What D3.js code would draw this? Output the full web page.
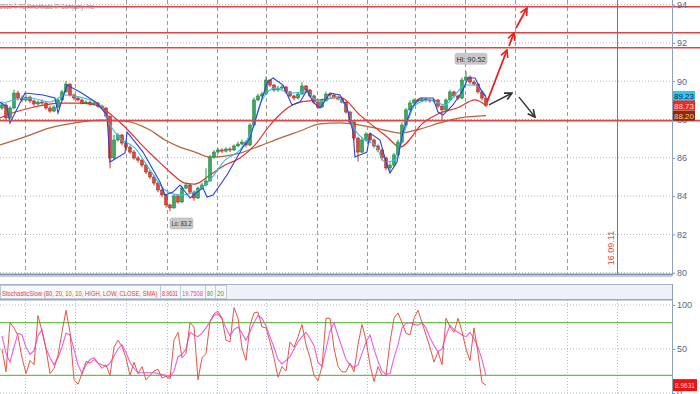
<!DOCTYPE html>
<html><head><meta charset="utf-8">
<script src="https://cdn.jsdelivr.net/npm/d3@7"></script>
<style>body{margin:0;background:#fff}svg{display:block}text{font-family:"Liberation Sans",Arial,sans-serif}</style>
</head><body><svg id="c" width="700" height="394"></svg>
<script>
// ---------- DATA ----------
const opens = [88.60,88.76,88.08,88.60,89.38,89.12,89.02,89.17,88.97,88.81,
88.91,88.86,88.60,88.44,88.65,89.02,89.44,89.85,89.28,89.12,
89.02,88.86,88.91,88.81,88.86,88.70,88.60,88.18,85.99,86.93,
87.19,86.77,86.56,86.30,85.99,85.88,85.62,85.26,85.00,84.68,
84.32,84.06,83.54,83.38,84.01,83.69,84.42,84.58,84.21,83.90,
84.42,84.58,84.79,86.04,86.30,86.41,86.35,86.46,86.41,86.62,
86.72,86.82,86.67,87.71,89.02,89.23,89.33,90.06,89.80,89.54,
89.64,89.70,89.44,89.23,89.12,89.33,89.75,89.54,89.23,88.91,
88.65,88.97,89.33,89.28,89.17,89.07,88.91,88.39,87.87,87.03,
86.30,86.93,87.24,86.93,86.62,86.41,85.99,85.47,85.62,86.15,
86.82,87.71,88.50,88.86,89.02,88.97,89.07,89.02,88.97,89.02,
88.70,88.50,89.02,89.44,89.23,89.12,90.06,90.22,89.96,89.85,
89.44,89.12];
const highs = [88.95,88.85,88.70,89.55,89.50,89.25,89.30,89.25,89.05,89.00,
89.05,88.95,88.70,88.75,89.10,89.55,90.00,89.90,89.35,89.20,
89.10,89.00,88.98,88.95,88.92,88.78,88.65,88.20,87.20,87.30,
87.25,86.85,86.65,86.40,86.10,85.95,85.70,85.35,85.10,84.75,
84.40,84.10,83.60,84.10,84.10,84.55,84.70,84.65,84.30,84.50,
84.70,85.45,86.15,86.40,86.50,86.50,86.55,86.55,86.70,86.85,
86.95,86.90,87.80,89.15,89.35,89.45,90.25,90.10,89.85,89.75,
89.80,89.75,89.50,89.30,89.40,89.95,89.80,89.60,89.30,88.95,
89.05,89.45,89.40,89.35,89.25,89.12,88.95,88.45,87.95,87.10,
87.05,87.35,87.30,87.00,86.70,86.45,86.05,85.75,86.25,86.95,
87.85,88.60,89.00,89.10,89.10,89.15,89.12,89.10,89.10,89.08,
88.75,89.10,89.55,89.50,89.30,90.20,90.52,90.30,90.05,89.90,
89.50,89.15];
const lows = [88.50,87.95,88.00,88.55,89.00,88.90,88.95,88.85,88.70,88.75,
88.78,88.50,88.35,88.38,88.60,88.98,89.40,89.20,89.00,88.95,
88.80,88.80,88.72,88.75,88.62,88.52,88.10,85.45,85.90,86.85,
86.65,86.45,86.20,85.90,85.75,85.50,85.15,84.90,84.55,84.20,
83.95,83.40,83.20,83.35,83.60,83.65,84.35,84.10,83.75,83.85,
84.35,84.50,84.75,85.95,86.20,86.25,86.28,86.30,86.35,86.55,
86.65,86.55,86.60,87.65,88.95,89.15,89.30,89.70,89.45,89.45,
89.55,89.35,89.15,89.00,89.05,89.30,89.45,89.15,88.80,88.55,
88.60,88.95,89.18,89.10,89.00,88.85,88.30,87.75,86.90,85.80,
86.25,86.85,86.80,86.50,86.30,85.85,85.35,85.25,85.55,86.10,
86.75,87.65,88.45,88.80,88.90,88.90,88.92,88.88,88.90,88.60,
87.97,88.45,88.98,89.15,89.00,89.05,90.00,89.85,89.75,89.35,
89.00,88.65];
const closes = [88.76,88.08,88.60,89.38,89.12,89.02,89.17,88.97,88.81,88.91,
88.86,88.60,88.44,88.65,89.02,89.44,89.85,89.28,89.12,89.02,
88.86,88.91,88.81,88.86,88.70,88.60,88.18,85.99,86.93,87.19,
86.77,86.56,86.30,85.99,85.88,85.62,85.26,85.00,84.68,84.32,
84.06,83.54,83.38,84.01,83.69,84.42,84.58,84.21,83.90,84.42,
84.58,84.79,86.04,86.30,86.41,86.35,86.46,86.41,86.62,86.72,
86.82,86.67,87.71,89.02,89.23,89.33,90.06,89.80,89.54,89.64,
89.70,89.44,89.23,89.12,89.33,89.75,89.54,89.23,88.91,88.65,
88.97,89.33,89.28,89.17,89.07,88.91,88.39,87.87,87.03,86.30,
86.93,87.24,86.93,86.62,86.41,85.99,85.47,85.62,86.15,86.82,
87.71,88.50,88.86,89.02,88.97,89.07,89.02,88.97,89.02,88.70,
88.50,89.02,89.44,89.23,89.12,90.06,90.22,89.96,89.85,89.44,
89.12,88.73];

// overlay lines: [bar index, price]
const blueLine = [[-0.5,88.91],[1.25,88.65],[2,87.82],[5.75,89.38],[10.25,89.28],[13.25,89.12],[14,88.34],[16.25,89.80],[19.5,89.44],[23.75,88.86],[26.25,88.23],[27,85.78],[30.75,86.25],[31.25,87.35],[35.25,86.30],[39.5,84.74],[40.75,84.06],[42.75,84.21],[44.5,84.58],[47,83.90],[48.75,84.21],[50.25,84.42],[51.25,83.95],[52.75,84.06],[56.25,85.10],[60.25,86.56],[62,87.03],[64.5,88.76],[66.25,89.91],[67.75,90.17],[70.25,89.80],[72.5,88.76],[74.5,88.91],[76.25,89.54],[77.75,88.91],[79.5,88.60],[82,89.38],[84.5,89.28],[86.25,88.60],[87.75,87.35],[88.25,86.04],[91.25,86.30],[92,87.29],[94.5,86.93],[96.25,85.62],[97,85.21],[98.75,85.78],[100.25,87.35],[102.5,88.65],[104.5,89.12],[107.75,89.12],[109,88.39],[110.25,88.23],[112.75,88.76],[115.25,89.54],[116.5,90.17],[118.25,90.17],[120,89.44],[121,89.17]];
const cyanLine = [[-0.5,88.81],[3.25,89.02],[7,89.12],[12,88.91],[15.75,89.28],[19.5,89.17],[24.5,88.76],[27,87.71],[29.5,87.03],[33.25,86.51],[37,85.36],[40.75,84.32],[44.5,84.06],[48.25,84.21],[52,84.84],[55.75,85.88],[59.5,86.41],[62.5,87.45],[65,89.02],[68.25,89.64],[72,89.38],[75.75,89.44],[79.5,88.91],[83.25,89.17],[85.75,88.76],[88.25,87.45],[90.75,86.93],[93.25,86.67],[95.75,85.78],[98.25,85.88],[100.75,87.45],[103.25,88.76],[107,89.02],[110.75,88.76],[113.25,89.28],[115.75,89.80],[118.25,89.80],[121,89.23]];
const redMA = [[-0.5,88.08],[3.25,88.39],[7,88.60],[10.75,88.76],[14.5,88.86],[19.5,88.86],[23.25,88.76],[25.75,88.50],[28.25,88.08],[30.75,87.61],[34.5,86.77],[38.25,85.99],[42,85.26],[45.75,84.68],[48.25,84.63],[52,85.10],[55.75,85.62],[59.5,85.99],[63.25,86.67],[67,87.71],[70.75,88.50],[74.5,88.91],[79.5,89.02],[84.5,89.17],[89.5,88.23],[96.25,87.09],[99.5,86.56],[105.25,87.82],[109.5,88.34],[113.75,88.60],[118.25,89.02],[121,88.73]];
const brownMA = [[-0.5,86.67],[5.75,87.09],[12,87.56],[18.25,87.82],[24.5,87.97],[30.75,87.92],[37,87.45],[40.75,86.93],[44.5,86.56],[48.25,86.30],[52,86.04],[55.75,86.09],[59.5,86.25],[64.5,86.62],[69.5,87.03],[74.5,87.40],[79.5,87.77],[84.5,87.82],[89.5,87.71],[94.5,87.50],[99.5,87.29],[104.5,87.50],[109.5,87.82],[114.5,88.08],[121,88.20]];

const stochK = [50,24,80,74,65,40,22,37,32,88,70,50,22,28,43,69,94,69,15,10,22,36,34,38,34,28,32,20,52,60,53,40,20,35,22,30,15,20,25,27,17,19,16,60,69,40,45,80,75,15,40,45,81,90,93,85,60,
58,97,85,51,37,77,91,92,75,74,58,40,18,30,25,58,52,64,78,55,40,20,14,30,85,85,51,30,24,24,34,24,55,78,60,32,13,30,20,20,58,85,91,80,68,66,85,94,80,66,52,35,47,32,85,75,69,85,70,50,37,74,45,12,8.9631];
const stochD = [65,45,35,52,68,66,52,44,48,65,72,51,40,32,40,52,68,66,50,32,22,32,38,40,34,32,30,34,42,50,55,46,35,28,23,23,23,23,23,22,21,20,18,25,41,44,50,69,66,64,68,74,81,88,90,84,74,65,72,75,68,60,70,80,88,85,76,64,52,38,33,37,41,50,58,64,69,62,54,35,30,50,70,80,65,52,38,32,29,32,45,58,66,50,36,25,21,22,40,55,74,79,80,78,77,80,74,63,54,47,50,65,77,72,69,66,64,69,62,52,38,19.7508];

const priceTicks = [80,82,84,86,88,90,92,94];
const stochTicks = [0,50,100];
const stochLevels = [80,20];
const resistLevels = [93.89,92.53,91.75,87.94];
const gridIdx = [5.75,18.25,31,41.25,53.75,66,78.75,91.25,103.25,115.75,128.25,141.25];
const dateLineIdx = 153.75;
const dateLabel = "16.09.11";
const redArrows = [[[121.25,88.91],[126.25,91.63]],[[126.75,91.84],[128,92.52]],[[128.5,92.78],[131.25,93.82]]];
const blackArrows = [[[121.75,88.76],[127.5,89.38]],[[129.25,89.17],[133.25,88.13]]];
const lastValues = [{v:89.23,fill:"#35c4ec",tc:"#0a2a4a"},{v:88.73,fill:"#ee2a22",tc:"#ffd8d0"},{v:88.20,fill:"#8a2a08",tc:"#f0c8a8"}];
const headerCells = [{t:"StochasticSlow (80, 20, 10, 10, HIGH, LOW, CLOSE, SMA)",c:"#e0403a",w:160},{t:"8.9631",c:"#d8403a",w:20},{t:"19.7508",c:"#e040e0",w:25},{t:"80",c:"#3f9a2f",w:10},{t:"20",c:"#3f9a2f",w:11}];

// ---------- SCALES ----------
const svg = d3.select("#c");
const PR = 672;
const x = d3.scaleLinear().domain([-0.5,167.5]).range([0,PR]);
const y = d3.scaleLinear().domain([80,94]).range([272.7,4.6]);
const ys = d3.scaleLinear().domain([0,100]).range([393,305]);

svg.append("rect").attr("width",700).attr("height",394).attr("fill","#fff");

const defs = svg.append("defs");
defs.append("clipPath").attr("id","mclip").append("rect").attr("x",0).attr("y",0).attr("width",PR).attr("height",274);
defs.append("clipPath").attr("id","sclip").append("rect").attr("x",0).attr("y",300).attr("width",PR).attr("height",94);
[["ar","#ee2020"],["ab","#333"]].forEach(([id,c])=>{
  defs.append("marker").attr("id",id).attr("viewBox","0 0 10 10").attr("refX",9).attr("refY",5)
    .attr("markerWidth",9).attr("markerHeight",9).attr("markerUnits","userSpaceOnUse").attr("orient","auto")
    .append("path").attr("d","M1,1 L9,5 L1,9").attr("fill","none").attr("stroke",c).attr("stroke-width",1.8);
});

// fit text horizontally into a width by scaling
function fitText(sel, w){
  const n = sel.node(); const len = n.getComputedTextLength();
  if(len > w){ const xx = +sel.attr("x"), yy = +sel.attr("y"), k = w/len;
    sel.attr("x",0).attr("y",0).attr("transform",`translate(${xx},${yy}) scale(${k},1)`); }
}

// ---------- MAIN PANEL ----------
const main = svg.append("g").attr("clip-path","url(#mclip)");
main.selectAll(".hg").data(priceTicks).enter().append("line")
  .attr("x1",0).attr("x2",PR).attr("y1",d=>y(d)).attr("y2",d=>y(d))
  .attr("stroke","#a9b5c6").attr("stroke-dasharray","1,2");
main.selectAll(".vg").data(gridIdx).enter().append("line")
  .attr("x1",d=>Math.round(x(d))+0.5).attr("x2",d=>Math.round(x(d))+0.5).attr("y1",0).attr("y2",274)
  .attr("stroke","#9a9a9a").attr("stroke-dasharray","4,3");
main.append("line").attr("x1",Math.round(x(dateLineIdx))+0.5).attr("x2",Math.round(x(dateLineIdx))+0.5)
  .attr("y1",0).attr("y2",274).attr("stroke","#ec4a4a").attr("stroke-width",1);
main.append("text").attr("transform",`translate(${x(dateLineIdx)-3},248) rotate(-90)`)
  .attr("text-anchor","middle").attr("font-size",9).attr("fill","#e04848").text(dateLabel);

const lineGen = d3.line().x(d=>x(d[0])).y(d=>y(d[1]));
const smooth = d3.line().x(d=>x(d[0])).y(d=>y(d[1])).curve(d3.curveMonotoneX);
main.append("path").attr("d",smooth(brownMA)).attr("fill","none").attr("stroke","#b4643e").attr("stroke-width",1.3);
main.append("path").attr("d",smooth(redMA)).attr("fill","none").attr("stroke","#e23030").attr("stroke-width",1.2);

// candles
const bars = closes.map((c,i)=>({i,o:opens[i],h:highs[i],l:lows[i],c}));
const cg = main.append("g");
cg.selectAll(".wick").data(bars).enter().append("line")
  .attr("x1",d=>x(d.i)).attr("x2",d=>x(d.i)).attr("y1",d=>y(d.h)).attr("y2",d=>y(d.l))
  .attr("stroke",d=>d.c>=d.o?"#2f8f4a":"#c83a2a").attr("stroke-width",1);
cg.selectAll(".body").data(bars).enter().append("rect")
  .attr("x",d=>x(d.i)-1.5).attr("width",3)
  .attr("y",d=>y(Math.max(d.o,d.c))).attr("height",d=>Math.max(1,Math.abs(y(d.o)-y(d.c))))
  .attr("fill",d=>d.c>=d.o?"#3aa860":"#d84a38").attr("stroke",d=>d.c>=d.o?"#1f7a3a":"#a8281c").attr("stroke-width",0.5);

main.append("path").attr("d",smooth(cyanLine)).attr("fill","none").attr("stroke","#2ec4e4").attr("stroke-width",1.1);
main.append("path").attr("d",lineGen(blueLine)).attr("fill","none").attr("stroke","#2d3fd6").attr("stroke-width",1.1);

// Hi / Lo labels
const hiI = d3.maxIndex(highs), loI = d3.minIndex(lows);
function tag(txt, cx, cy, w){
  const g = svg.append("g");
  g.append("rect").attr("x",cx-w/2).attr("y",cy-5.5).attr("width",w).attr("height",11).attr("rx",2)
    .attr("fill","#c8c8c8").attr("stroke","#b0b0b0").attr("stroke-width",0.5);
  const t = g.append("text").attr("x",cx).attr("y",cy+3).attr("text-anchor","middle").attr("font-size",8).attr("fill","#333").text(txt);
  fitText(t, w-3);
}
tag("Hi: "+highs[hiI].toFixed(2), x(hiI)+5, y(highs[hiI])-12.5, 32);
tag("Lo: "+d3.format(".1f")(lows[loI]), x(loI)+11.5, y(lows[loI])+12, 23);

// resistance levels (extend to edge)
svg.selectAll(".lv").data(resistLevels).enter().append("line")
  .attr("x1",0).attr("x2",700).attr("y1",d=>y(d)).attr("y2",d=>y(d))
  .attr("stroke","#e04444").attr("stroke-width",1.6);

// arrows
const arr = svg.append("g");
redArrows.forEach(a=>arr.append("line").attr("x1",x(a[0][0])).attr("y1",y(a[0][1])).attr("x2",x(a[1][0])).attr("y2",y(a[1][1]))
  .attr("stroke","#ee2020").attr("stroke-width",1.8).attr("marker-end","url(#ar)"));
blackArrows.forEach(a=>arr.append("line").attr("x1",x(a[0][0])).attr("y1",y(a[0][1])).attr("x2",x(a[1][0])).attr("y2",y(a[1][1]))
  .attr("stroke","#333").attr("stroke-width",1.4).attr("marker-end","url(#ab)"));

// copyright
const cp = svg.append("text").attr("x",0).attr("y",8.5).attr("font-size",8).attr("fill","#8c8c8c").text("2010 © TD Ameritrade IP Company, Inc.");
fitText(cp, 95);

// right axis main
const axM = svg.append("g").attr("transform",`translate(${PR},0)`)
  .call(d3.axisRight(y).tickValues(priceTicks).tickSize(3).tickFormat(d3.format("d")));
axM.select(".domain").remove();
axM.selectAll("line").attr("stroke","#7f95b0");
axM.selectAll("text").attr("font-size",9).attr("fill","#55678a").attr("x",5);
svg.append("line").attr("x1",PR+0.5).attr("x2",PR+0.5).attr("y1",0).attr("y2",275).attr("stroke","#8fa2bb").attr("stroke-width",1);
svg.append("line").attr("x1",0).attr("x2",PR+1).attr("y1",274.5).attr("y2",274.5).attr("stroke","#7f95b0").attr("stroke-width",2);

// last-value boxes
lastValues.forEach(d=>{
  svg.append("rect").attr("x",673).attr("y",y(d.v)-5).attr("width",22).attr("height",10).attr("fill",d.fill);
  const t = svg.append("text").attr("x",684).attr("y",y(d.v)+3).attr("text-anchor","middle").attr("font-size",8).attr("fill",d.tc).text(d.v.toFixed(2));
});

// ---------- STOCH PANEL ----------
svg.append("line").attr("x1",0).attr("x2",PR).attr("y1",276.5).attr("y2",276.5).attr("stroke","#c2ccd8");
svg.append("rect").attr("x",0.5).attr("y",284.5).attr("width",PR).attr("height",15).attr("fill","#eef1f5").attr("stroke","#a5b3c5");
let cx0 = 0;
headerCells.forEach(cell=>{
  svg.append("rect").attr("x",cx0+0.5).attr("y",285.5).attr("width",cell.w).attr("height",13).attr("fill","#f7f8fa").attr("stroke","#b8c3d2").attr("stroke-width",0.8);
  const t = svg.append("text").attr("x",cx0+2).attr("y",295.5).attr("font-size",8).attr("fill",cell.c).text(cell.t);
  fitText(t, cell.w-4);
  cx0 += cell.w;
});

const st = svg.append("g").attr("clip-path","url(#sclip)");
st.selectAll(".shg").data(stochTicks).enter().append("line")
  .attr("x1",0).attr("x2",PR).attr("y1",d=>ys(d)).attr("y2",d=>ys(d))
  .attr("stroke","#a9b5c6").attr("stroke-dasharray","1,2");
st.selectAll(".svg").data(gridIdx.concat([dateLineIdx])).enter().append("line")
  .attr("x1",d=>Math.round(x(d))+0.5).attr("x2",d=>Math.round(x(d))+0.5).attr("y1",300).attr("y2",394)
  .attr("stroke","#b4c0d0").attr("stroke-dasharray","1,2");
st.selectAll(".slv").data(stochLevels).enter().append("line")
  .attr("x1",0).attr("x2",PR).attr("y1",d=>ys(d)).attr("y2",d=>ys(d))
  .attr("stroke","#6cbf4c").attr("stroke-width",1.2);
const sLine = d3.line().x((d,i)=>x(i)).y(d=>ys(d));
st.append("path").attr("d",sLine(stochD)).attr("fill","none").attr("stroke","#ea5ee6").attr("stroke-width",1.1);
st.append("path").attr("d",sLine(stochK)).attr("fill","none").attr("stroke","#e8544a").attr("stroke-width",1);

svg.append("line").attr("x1",0).attr("x2",PR).attr("y1",300).attr("y2",300).attr("stroke","#8fa2bb");
const axS = svg.append("g").attr("transform",`translate(${PR},0)`)
  .call(d3.axisRight(ys).tickValues(stochTicks).tickSize(3).tickFormat(d3.format("d")));
axS.select(".domain").remove();
axS.selectAll("line").attr("stroke","#7f95b0");
axS.selectAll("text").attr("font-size",9).attr("fill","#55678a").attr("x",5);
svg.append("line").attr("x1",PR+0.5).attr("x2",PR+0.5).attr("y1",284).attr("y2",394).attr("stroke","#8fa2bb");
const kLast = stochK[stochK.length-1];
svg.append("rect").attr("x",673).attr("y",ys(kLast)-6).attr("width",24).attr("height",12).attr("fill","#ee1111");
const kt = svg.append("text").attr("x",675).attr("y",ys(kLast)+3).attr("font-size",8).attr("fill","#ffd0d0").text(kLast.toFixed(4));
fitText(kt, 20);
</script></body></html>
